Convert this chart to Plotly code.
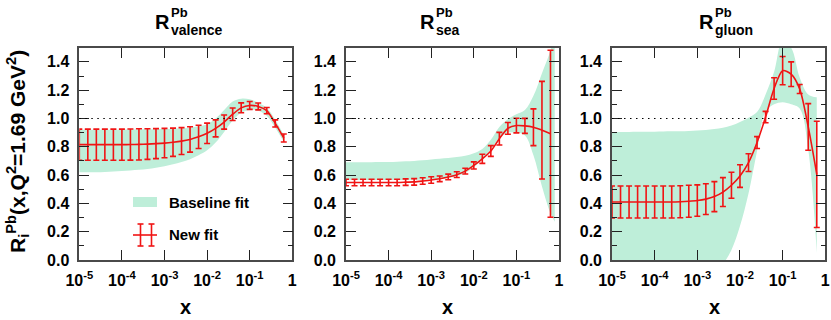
import plotly.graph_objects as go
from plotly.subplots import make_subplots

W, H = 831, 320

# log10(x) grid of the fit points
logx = [-5.0, -4.8, -4.6, -4.4, -4.2, -4.0, -3.8, -3.6, -3.4, -3.2, -3.0, -2.8, -2.6,
        -2.4, -2.2, -2.0, -1.8, -1.6, -1.4, -1.2, -1.0, -0.8, -0.6, -0.4, -0.2]
logx_sea_band = logx + [-0.1]

# valence
val_fit = [0.815, 0.815, 0.815, 0.815, 0.815, 0.815, 0.816, 0.817, 0.819, 0.822, 0.826, 0.832, 0.840,
           0.852, 0.870, 0.895, 0.930, 0.975, 1.030, 1.075, 1.092, 1.085, 1.055, 0.965, 0.862]
val_err = [0.110, 0.110, 0.110, 0.110, 0.110, 0.110, 0.110, 0.110, 0.108, 0.106, 0.104, 0.100, 0.095,
           0.090, 0.082, 0.072, 0.060, 0.050, 0.044, 0.035, 0.028, 0.024, 0.022, 0.025, 0.028]
val_lo = [0.620, 0.620, 0.620, 0.622, 0.625, 0.628, 0.632, 0.637, 0.643, 0.652, 0.663, 0.676, 0.692,
          0.712, 0.740, 0.775, 0.830, 0.905, 0.985, 1.040, 1.060, 1.055, 1.020, 0.935, 0.835]
val_hi = [0.920, 0.920, 0.920, 0.920, 0.921, 0.921, 0.922, 0.922, 0.923, 0.924, 0.925, 0.927, 0.930,
          0.935, 0.945, 0.960, 1.000, 1.060, 1.120, 1.140, 1.135, 1.110, 1.075, 0.990, 0.885]

# sea
sea_fit = [0.548, 0.548, 0.548, 0.548, 0.548, 0.548, 0.548, 0.550, 0.552, 0.558, 0.565, 0.574, 0.587,
           0.603, 0.628, 0.668, 0.715, 0.770, 0.857, 0.930, 0.950, 0.948, 0.938, 0.917, 0.892]
sea_err = [0.023, 0.023, 0.023, 0.023, 0.023, 0.023, 0.023, 0.023, 0.023, 0.023, 0.023, 0.020, 0.020,
           0.020, 0.020, 0.025, 0.032, 0.038, 0.045, 0.042, 0.052, 0.053, 0.130, 0.345, 0.590]
sea_lo = [0.565, 0.565, 0.565, 0.565, 0.565, 0.565, 0.565, 0.566, 0.567, 0.569, 0.571, 0.574, 0.580,
          0.592, 0.615, 0.655, 0.710, 0.780, 0.860, 0.900, 0.900, 0.880, 0.740, 0.520, 0.330, 0.270]
sea_hi = [0.690, 0.690, 0.690, 0.691, 0.692, 0.693, 0.695, 0.697, 0.700, 0.704, 0.710, 0.715, 0.720,
          0.727, 0.737, 0.755, 0.785, 0.850, 0.940, 0.995, 1.030, 1.060, 1.160, 1.320, 1.480, 1.620]

# gluon
glu_fit = [0.410, 0.410, 0.410, 0.410, 0.410, 0.410, 0.410, 0.410, 0.412, 0.415, 0.420, 0.430, 0.448,
           0.480, 0.528, 0.593, 0.688, 0.830, 1.010, 1.212, 1.338, 1.313, 1.208, 0.940, 0.605]
glu_err = [0.113, 0.113, 0.113, 0.113, 0.113, 0.113, 0.113, 0.113, 0.113, 0.113, 0.111, 0.109, 0.106,
           0.102, 0.092, 0.080, 0.063, 0.042, 0.040, 0.076, 0.100, 0.087, 0.032, 0.165, 0.375]
glu_lo = [-0.95, -0.93, -0.90, -0.87, -0.84, -0.80, -0.76, -0.71, -0.65, -0.58, -0.50, -0.38, -0.22,
          -0.04, 0.07, 0.24, 0.47, 0.77, 1.05, 1.10, 1.115, 1.10, 1.07, 0.78, 0.05]
glu_hi = [0.905, 0.905, 0.905, 0.906, 0.906, 0.907, 0.908, 0.909, 0.910, 0.912, 0.915, 0.919, 0.925,
          0.935, 0.950, 0.975, 1.005, 1.045, 1.170, 1.330, 1.550, 1.500, 1.290, 1.170, 1.150]

xtick_vals = [1e-5, 1e-4, 1e-3, 1e-2, 1e-1, 1]
xtick_text = ["10<sup>-5</sup>", "10<sup>-4</sup>", "10<sup>-3</sup>", "10<sup>-2</sup>", "10<sup>-1</sup>", "1"]
ytick_vals = [0.0, 0.2, 0.4, 0.6, 0.8, 1.0, 1.2, 1.4]
ytick_text = ["0.0", "0.2", "0.4", "0.6", "0.8", "1.0", "1.2", "1.4"]

panels = [
    ("valence", logx, val_fit, val_err, logx, val_lo, val_hi),
    ("sea", logx, sea_fit, sea_err, logx_sea_band, sea_lo, sea_hi),
    ("gluon", logx, glu_fit, glu_err, logx, glu_lo, glu_hi),
]

BAND = "rgb(190,238,217)"
RED = "rgb(240,20,20)"
FONT = "Liberation Sans, Arial, sans-serif"

fig = make_subplots(rows=1, cols=3)

for i, (name, lx, fit, err, blx, lo, hi) in enumerate(panels, start=1):
    bx = [10 ** v for v in blx]
    fig.add_trace(go.Scatter(x=bx, y=lo, mode="lines", line=dict(width=0, shape="spline"),
                             showlegend=False, hoverinfo="skip"), row=1, col=i)
    fig.add_trace(go.Scatter(x=bx, y=hi, mode="lines", line=dict(width=0, shape="spline"),
                             fill="tonexty", fillcolor=BAND, showlegend=False,
                             name="Baseline fit"), row=1, col=i)
    fig.add_trace(go.Scatter(x=[10 ** v for v in lx], y=fit, mode="lines",
                             line=dict(color=RED, width=1.6, shape="spline", smoothing=0.8),
                             error_y=dict(type="data", array=err, color=RED, thickness=1.6, width=3),
                             showlegend=False, name="New fit"), row=1, col=i)

xdoms = [(79.3, 292.3), (346, 559), (612, 825.3)]
ydom = [(H - 260) / H, (H - 47.7) / H]

axis_common = dict(showline=True, linecolor="#4a4a4a", linewidth=1.6, mirror="allticks",
                   ticks="inside", tickcolor="#222", tickwidth=1.3, ticklen=10,
                   showgrid=False, zeroline=False, automargin=False,
                   tickfont=dict(family=FONT, size=16, color="black", weight="bold"))

for i, (a, b) in enumerate(xdoms, start=1):
    fig.update_xaxes(type="log", range=[-5, 0], domain=[a / W, b / W],
                     tickmode="array", tickvals=xtick_vals, ticktext=xtick_text,
                     ticklabelstandoff=5, **axis_common, row=1, col=i)
    fig.update_yaxes(range=[0, 1.5], domain=ydom, tickmode="array",
                     tickvals=ytick_vals, ticktext=ytick_text,
                     minor=dict(tickmode="linear", tick0=0, dtick=0.1, ticks="inside", ticklen=5,
                                tickcolor="#222", tickwidth=1.3),
                     ticklabelstandoff=5, **axis_common, row=1, col=i)
    fig.add_shape(type="line", xref=f"x{i} domain" if i > 1 else "x domain", x0=0, x1=1,
                  yref=f"y{i}" if i > 1 else "y", y0=1, y1=1,
                  line=dict(color="black", width=1.1, dash="1.5px,4.5px"))


def px(x):
    return x / W


def py(y):
    return 1 - y / H


annots = []
# panel titles: R with stacked Pb / subscript
titles = [(153, "valence"), (418, "sea"), (697, "gluon")]
for left, sub in titles:
    annots.append(dict(x=px(left), y=py(22), text="<b>R</b>", xanchor="left", yanchor="middle",
                       font=dict(family=FONT, size=20, color="black")))
    annots.append(dict(x=px(left + 15.5), y=py(12.5), text="<b>Pb</b>", xanchor="left", yanchor="middle",
                       font=dict(family=FONT, size=13, color="black")))
    annots.append(dict(x=px(left + 15.5), y=py(30), text=f"<b>{sub}</b>", xanchor="left", yanchor="middle",
                       font=dict(family=FONT, size=14, color="black")))

# x axis titles
for xc in [185, 447.5, 714]:
    annots.append(dict(x=px(xc), y=0, text="<b>x</b>", xanchor="center", yanchor="bottom",
                       font=dict(family=FONT, size=20, color="black")))

# y axis title
annots.append(dict(x=px(17), y=py(152), textangle=-90, xanchor="center", yanchor="middle",
                   text="<b>R<sub>i</sub><sup>Pb</sup>(x,Q<sup>2</sup>=1.69 GeV<sup>2</sup>)</b>",
                   font=dict(family=FONT, size=21, color="black")))

# legend
annots.append(dict(x=px(167), y=py(202), text="<b>Baseline fit</b>", xanchor="left", yanchor="middle",
                   font=dict(family=FONT, size=15, color="black")))
annots.append(dict(x=px(167), y=py(234), text="<b>New fit</b>", xanchor="left", yanchor="middle",
                   font=dict(family=FONT, size=15, color="black")))

for a in annots:
    a.update(xref="paper", yref="paper", showarrow=False)

shapes = [
    dict(type="rect", x0=px(133), x1=px(157), y0=py(207), y1=py(197), fillcolor=BAND, line=dict(width=0)),
    dict(type="line", x0=px(133), x1=px(157), y0=py(235), y1=py(235), line=dict(color=RED, width=1.6)),
]
for xc in [140.5, 151.5]:
    shapes.append(dict(type="line", x0=px(xc), x1=px(xc), y0=py(224), y1=py(246), line=dict(color=RED, width=1.6)))
    for yc in [224, 246]:
        shapes.append(dict(type="line", x0=px(xc - 3), x1=px(xc + 3), y0=py(yc), y1=py(yc),
                           line=dict(color=RED, width=1.6)))
for s in shapes:
    s.update(xref="paper", yref="paper")
    fig.add_shape(**s)

fig.update_layout(
    width=W, height=H,
    margin=dict(l=0, r=0, t=0, b=0),
    paper_bgcolor="white", plot_bgcolor="white",
    showlegend=False,
    annotations=annots,
    font=dict(family=FONT, color="black"),
)

fig.write_html("out.html", config={"displayModeBar": False},
               post_script="document.body.style.margin='0px';")
